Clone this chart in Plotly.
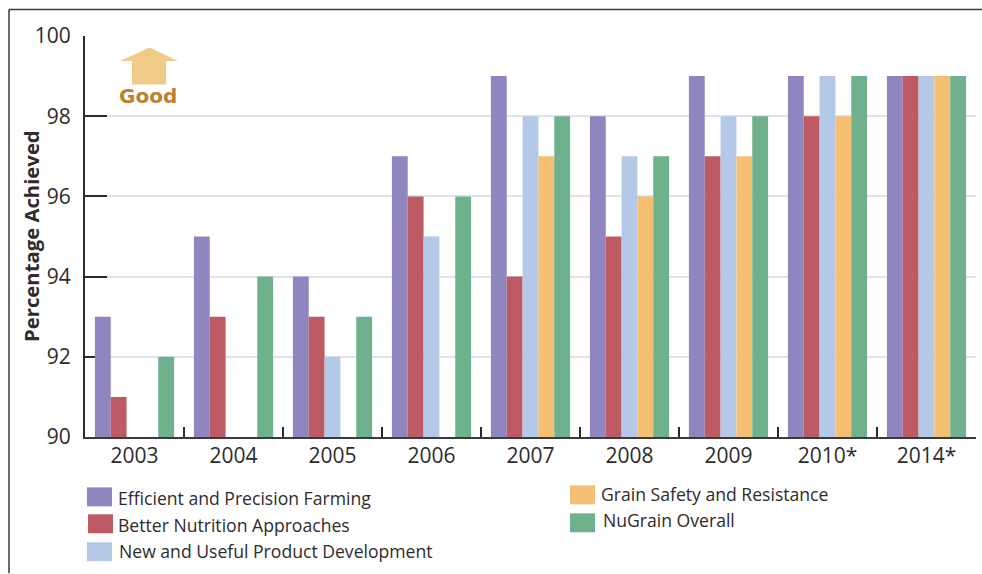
import plotly.graph_objects as go

# Survey results by year; None means the measure was not reported that year.
years = ["2003", "2004", "2005", "2006", "2007", "2008", "2009", "2010*", "2014*"]
efficient_farming = [93, 95, 94, 97, 99, 98, 99, 99, 99]
better_nutrition = [91, 93, 93, 96, 94, 95, 97, 98, 99]
new_products = [None, None, 92, 95, 98, 97, 98, 99, 99]
grain_safety = [None, None, None, None, 97, 96, 97, 98, 99]
nugrain_overall = [92, 94, 93, 96, 98, 97, 98, 99, 99]

series_names = [
    "Efficient and Precision Farming",
    "Better Nutrition Approaches",
    "New and Useful Product Development",
    "Grain Safety and Resistance",
    "NuGrain Overall",
]
series_values = [efficient_farming, better_nutrition, new_products, grain_safety, nugrain_overall]
series_colors = ["#8F86BF", "#BD5A64", "#B4C9E8", "#F4BF73", "#6EB18C"]

W, H = 982, 574
L, R, T, B = 85, 976, 35.5, 437.5
TEXT = "#2E2B2D"
FONT = "Open Sans"


# Page pixels to paper coordinates (paper spans the plot area)
def px(x):
    return (x - L) / (R - L)


def py(y):
    return (B - y) / (B - T)


fig = go.Figure()
for name, values, color in zip(series_names, series_values, series_colors):
    fig.add_trace(go.Bar(x=years, y=values, name=name, marker=dict(color=color, line_width=0),
                         showlegend=False))

shapes = []
annotations = []


def rect(x0, y0, x1, y1, color):
    shapes.append(dict(type="rect", xref="paper", yref="paper", x0=px(x0), x1=px(x1),
                       y0=py(y0), y1=py(y1), fillcolor=color, line_width=0))


def label(x, y, text, size, color=TEXT, family=FONT, anchor="left", angle=0):
    annotations.append(dict(xref="paper", yref="paper", x=px(x), y=py(y), text=text,
                            showarrow=False, xanchor=anchor, yanchor="middle", textangle=angle,
                            font=dict(family=family, size=size, color=color)))


# Outer frame: top and left rules only
shapes.append(dict(type="line", xref="paper", yref="paper", x0=px(9), x1=px(W), y0=py(9), y1=py(9),
                   line=dict(color="#3A3A3A", width=1.5)))
shapes.append(dict(type="line", xref="paper", yref="paper", x0=px(9), x1=px(9), y0=py(9), y1=py(H),
                   line=dict(color="#3A3A3A", width=1.5)))

# "Good" direction arrow
arrow = [(149.5, 47), (178, 60.5), (166, 60.5), (166, 84), (132, 84), (132, 60.5), (120, 60.5)]
path = "M " + " L ".join(f"{px(x):.5f},{py(y):.5f}" for x, y in arrow) + " Z"
shapes.append(dict(type="path", xref="paper", yref="paper", path=path, fillcolor="#F0CB88",
                   line_width=0))
label(148, 95.5, "<b>Good</b>", 20, "#BF7F33", "DejaVu Sans", "center")

# Two-column key
key_rows = [
    (87, 488, 116, 498.5),
    (88, 515, 116, 525.5),
    (87, 543, 117, 552),
    (570, 486, 599, 494.5),
    (570, 514, 601, 520.5),
]
for (sx, sy, tx, ty), name, color in zip(key_rows, series_names, series_colors):
    rect(sx, sy, sx + 25, sy + 19, color)
    label(tx, ty, name, 17.6, TEXT)

# Value-axis caption
label(31, 236, "<b>Percentage Achieved</b>", 20.3, TEXT, FONT, "center", -90)

axis_line = dict(color="#2E2B2D", width=2)
fig.update_layout(
    width=W, height=H,
    margin=dict(l=L, r=W - R, t=T, b=H - B, autoexpand=False),
    paper_bgcolor="white", plot_bgcolor="white",
    barmode="group", bargap=0.2, bargroupgap=0,
    font=dict(family=FONT, size=20, color=TEXT),
    shapes=shapes, annotations=annotations,
    xaxis=dict(
        type="category", tickson="boundaries", ticks="inside", ticklen=10, tickwidth=1.5,
        tickcolor=axis_line["color"], showline=True, linecolor="#3A3A3A", linewidth=2,
        showgrid=False, layer="below traces", ticklabelstandoff=-1,
        tickfont=dict(family=FONT, size=21, color=TEXT),
    ),
    yaxis=dict(
        range=[90, 100], tick0=90, dtick=2, ticks="inside", ticklen=22, tickwidth=2,
        tickcolor=axis_line["color"], showline=True, linecolor=axis_line["color"],
        linewidth=2, showgrid=True, gridcolor="#DFE2F0", gridwidth=2, zeroline=False,
        layer="below traces", ticklabelstandoff=8,
        tickfont=dict(family=FONT, size=21, color=TEXT),
    ),
)

fig.write_html("out.html", config={"displayModeBar": False})
